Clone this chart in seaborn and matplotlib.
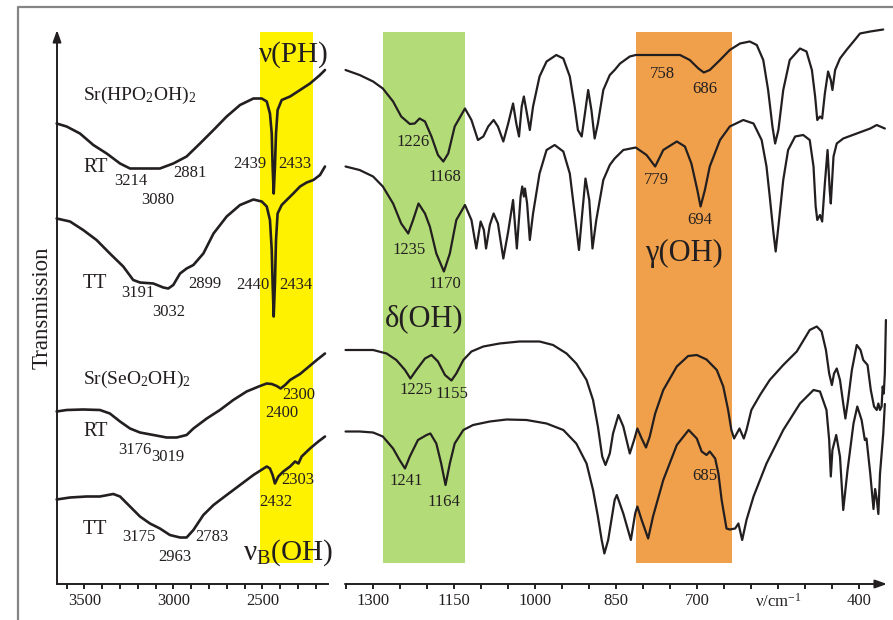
import numpy as np
import pandas as pd
import matplotlib
matplotlib.use("Agg")
import matplotlib.pyplot as plt
from matplotlib.lines import Line2D
import seaborn as sns

# IR spectra: wavenumber (cm-1) and transmission (arbitrary, offset per trace)
# --- high wavenumber part (3650-2150) ---
hp_rt_hi_nu = [3656, 3600, 3525, 3450, 3375, 3300, 3244, 3169, 3076, 3001, 2926, 2851, 2775, 2701, 2626,
               2551, 2504, 2476, 2458, 2448, 2443, 2437, 2430, 2424, 2415, 2392, 2345, 2289, 2233, 2177, 2149]
hp_rt_hi_t = [92.1, 91.5, 90.1, 87.8, 86.1, 84.1, 83.1, 83.1, 83.1, 84.1, 85.5, 88.1, 90.8, 93.5, 95.8,
              97.1, 97.1, 96.5, 94.1, 90.1, 83.5, 78.1, 83.5, 90.1, 94.8, 96.8, 97.5, 98.8, 100.1, 101.8, 102.8]

hp_tt_hi_nu = [3656, 3581, 3507, 3432, 3357, 3282, 3226, 3188, 3113, 3057, 3029, 3001, 2963, 2926, 2888,
               2832, 2775, 2701, 2626, 2551, 2504, 2476, 2458, 2448, 2443, 2437, 2430, 2424, 2415, 2392,
               2364, 2327, 2289, 2252, 2214, 2177, 2149]
hp_tt_hi_t = [73.1, 72.5, 70.8, 68.8, 66.1, 63.5, 60.8, 60.3, 60.1, 59.3, 59.1, 59.8, 62.1, 63.1, 63.8,
              66.1, 70.1, 73.5, 75.8, 76.9, 76.5, 75.5, 72.8, 66.8, 60.1, 53.5, 60.1, 68.8, 74.1, 75.8,
              76.8, 78.1, 79.5, 80.3, 80.8, 81.8, 83.5]

se_rt_hi_nu = [3656, 3600, 3507, 3413, 3357, 3300, 3244, 3188, 3113, 3038, 2982, 2926, 2888, 2813, 2739,
               2664, 2589, 2514, 2476, 2448, 2420, 2398, 2373, 2345, 2308, 2289, 2252, 2195, 2149]
se_rt_hi_t = [34.5, 34.8, 34.9, 34.8, 34.1, 32.5, 31.1, 30.3, 29.8, 29.3, 29.3, 29.8, 31.1, 33.1, 34.8,
              36.8, 38.5, 39.6, 40.1, 40.0, 39.6, 39.1, 39.8, 40.8, 41.6, 42.0, 43.1, 44.8, 46.1]

se_tt_hi_nu = [3656, 3581, 3488, 3413, 3338, 3300, 3244, 3188, 3132, 3076, 3020, 2963, 2926, 2888, 2832,
               2775, 2701, 2626, 2551, 2476, 2458, 2443, 2430, 2411, 2383, 2345, 2317, 2298, 2280, 2233,
               2186, 2149]
se_tt_hi_t = [16.9, 17.3, 17.5, 17.5, 18.0, 17.5, 15.5, 13.5, 12.1, 11.1, 9.8, 9.3, 9.3, 10.8, 13.8,
              15.8, 17.8, 19.8, 21.8, 23.5, 23.1, 21.8, 20.1, 21.5, 22.5, 23.5, 24.5, 24.1, 25.5, 27.1,
              28.5, 29.5]

# --- low wavenumber part (1350-350) ---
hp_rt_lo_nu = [1351, 1325, 1300, 1282, 1263, 1248, 1232, 1223, 1214, 1204, 1192, 1180, 1170, 1161, 1149,
               1130, 1118, 1106, 1096, 1087, 1077, 1069, 1059, 1050, 1041, 1035, 1030, 1025, 1021, 1016,
               1010, 1004, 992, 979, 961, 948, 936, 927, 921, 914, 908, 902, 896, 890, 884,
               874, 862, 853, 843, 825, 814, 769, 732, 714, 698, 688, 677, 658, 640, 621,
               603, 590, 578, 569, 561, 556, 550, 541, 529, 510, 498, 488, 482, 478, 473,
               469, 464, 458, 453, 450, 445, 436, 424, 411, 399, 380, 356]
hp_rt_lo_t = [102.8, 101.8, 100.5, 99.1, 96.5, 93.5, 92.0, 92.1, 93.1, 92.5, 89.5, 85.8, 84.5, 86.1, 91.5,
              95.1, 92.8, 88.8, 89.5, 91.5, 92.8, 91.5, 88.5, 92.1, 96.1, 92.1, 89.5, 95.5, 97.5, 94.5,
              90.8, 95.5, 101.5, 104.5, 105.8, 105.1, 101.5, 95.5, 90.8, 89.5, 94.1, 98.8, 94.8, 89.1, 92.1,
              98.8, 101.8, 102.8, 104.1, 105.5, 105.8, 105.8, 105.8, 104.8, 103.1, 102.3, 102.8, 104.8, 106.8, 108.1,
              108.5, 107.8, 104.8, 98.8, 91.5, 88.1, 90.8, 98.8, 104.8, 107.1, 106.5, 102.8, 97.5, 92.8, 93.5,
              93.1, 98.1, 102.5, 100.8, 98.8, 102.8, 105.1, 106.8, 108.5, 110.1, 110.5, 110.9]

hp_tt_lo_nu = [1351, 1325, 1300, 1282, 1263, 1248, 1235, 1226, 1216, 1204, 1195, 1183, 1169, 1158, 1146,
               1130, 1118, 1109, 1101, 1095, 1091, 1084, 1077, 1069, 1059, 1050, 1041, 1034, 1027, 1024,
               1021, 1019, 1015, 1010, 1004, 992, 979, 964, 948, 936, 927, 919, 913, 907, 900,
               894, 887, 874, 862, 853, 837, 814, 794, 778, 763, 738, 723, 711, 700, 694,
               686, 677, 658, 640, 615, 596, 581, 572, 566, 559, 555, 550, 541, 532, 519,
               504, 492, 485, 481, 478, 473, 469, 464, 459, 455, 453, 448, 442, 430, 405,
               380, 368, 353]
hp_tt_lo_t = [83.5, 82.8, 81.5, 79.5, 76.1, 72.1, 70.1, 72.8, 76.1, 74.1, 71.5, 66.1, 62.5, 66.1, 72.8,
              75.8, 72.8, 67.1, 72.5, 70.8, 67.1, 71.8, 74.1, 72.1, 65.1, 70.5, 76.8, 67.1, 77.5, 79.5,
              77.5, 79.1, 76.1, 68.8, 74.1, 82.1, 86.8, 87.8, 86.5, 82.1, 74.1, 66.8, 74.1, 81.1, 76.8,
              67.1, 72.8, 80.8, 83.8, 85.1, 86.8, 87.3, 85.8, 83.5, 86.8, 88.5, 87.5, 84.1, 78.8, 75.5,
              78.8, 83.5, 88.8, 91.5, 92.8, 92.1, 88.8, 83.5, 77.5, 70.1, 66.5, 71.5, 80.8, 86.8, 89.5,
              89.8, 88.8, 83.5, 75.5, 72.8, 73.8, 72.5, 80.1, 86.8, 78.8, 76.1, 85.5, 88.1, 89.1, 90.1,
              91.1, 91.8, 91.1]

se_rt_lo_nu = [1351, 1325, 1300, 1275, 1257, 1241, 1231, 1220, 1204, 1192, 1180, 1167, 1155, 1146, 1133,
               1118, 1096, 1066, 1029, 992, 967, 942, 924, 905, 893, 884, 876, 870, 862, 856,
               846, 837, 825, 817, 811, 803, 795, 788, 778, 763, 738, 717, 701, 683, 664,
               652, 643, 637, 632, 627, 622, 618, 614, 609, 600, 584, 566, 541, 516, 492,
               479, 470, 462, 456, 451, 447, 442, 436, 430, 426, 421, 414, 405, 398, 393,
               385, 379, 373, 368, 365, 362, 359, 357, 355, 353, 351]
se_rt_lo_t = [46.8, 46.8, 46.8, 46.1, 44.8, 42.8, 41.1, 42.8, 45.1, 45.8, 44.5, 41.8, 40.7, 42.1, 44.8,
              46.5, 47.5, 48.1, 48.5, 48.5, 47.8, 46.1, 44.1, 40.8, 36.8, 31.5, 25.5, 23.8, 26.1, 30.1,
              33.8, 31.5, 26.1, 28.8, 31.1, 29.1, 27.3, 29.5, 34.1, 38.8, 43.5, 45.6, 45.8, 44.9, 42.8,
              39.5, 34.8, 30.8, 29.1, 30.1, 31.1, 30.1, 29.1, 30.8, 34.8, 37.8, 40.8, 43.8, 46.5, 50.8,
              51.5, 50.5, 46.8, 42.1, 39.8, 42.1, 43.1, 40.8, 36.1, 33.1, 36.8, 42.8, 47.8, 46.8, 44.8,
              43.8, 38.8, 35.5, 34.8, 36.1, 34.8, 35.5, 39.5, 38.1, 42.1, 52.8]

se_tt_lo_nu = [1351, 1325, 1300, 1282, 1263, 1251, 1241, 1232, 1217, 1201, 1194, 1183, 1174, 1166, 1158,
               1149, 1133, 1115, 1084, 1053, 1016, 979, 948, 924, 905, 893, 884, 877, 872, 865,
               859, 853, 849, 837, 823, 815, 811, 803, 791, 782, 763, 738, 716, 701, 692,
               683, 677, 667, 661, 655, 646, 640, 630, 624, 617, 609, 596, 572, 541, 510,
               485, 473, 461, 456, 453, 450, 443, 436, 430, 422, 411, 404, 396, 390, 387,
               380, 374, 371, 368, 365, 362, 356, 353]
se_tt_lo_t = [30.5, 30.5, 30.3, 29.5, 27.1, 24.8, 23.1, 25.5, 28.8, 29.8, 30.1, 28.1, 24.1, 19.8, 24.1,
              28.1, 30.8, 31.8, 32.5, 32.9, 32.8, 32.1, 30.8, 28.1, 24.1, 18.8, 13.5, 8.8, 6.1, 8.8,
              12.8, 16.8, 17.8, 14.1, 8.8, 14.1, 15.5, 12.8, 9.1, 13.5, 20.8, 27.8, 30.8, 29.1, 26.5,
              25.8, 26.5, 25.1, 22.1, 16.8, 11.1, 10.9, 11.1, 12.1, 8.8, 12.8, 17.5, 24.1, 30.8, 36.1,
              38.8, 38.5, 34.8, 28.8, 21.5, 26.8, 29.8, 25.5, 14.8, 22.8, 32.1, 35.5, 32.8, 28.8, 29.1,
              22.1, 15.0, 19.0, 17.0, 14.0, 22.0, 30.0, 36.0]

# assignment bands (cm-1)
band_ph = (2514, 2218)
band_delta = (1282, 1130)
band_gamma = (814, 636)

hi_ticks = [3500, 3000, 2500]
lo_ticks = [1300, 1150, 1000, 850, 700, 550, 400]
lo_ticklabels = ['1300', '1150', '1000', '850', '700', r'ν/cm$^{\mathrm{-1}}$', '400']


def trace(nu, t, name):
    return pd.DataFrame({'nu': nu, 'T': t, 'sample': name})


hi = pd.concat([trace(hp_rt_hi_nu, hp_rt_hi_t, 'HP RT'), trace(hp_tt_hi_nu, hp_tt_hi_t, 'HP TT'),
                trace(se_rt_hi_nu, se_rt_hi_t, 'Se RT'), trace(se_tt_hi_nu, se_tt_hi_t, 'Se TT')])
lo = pd.concat([trace(hp_rt_lo_nu, hp_rt_lo_t, 'HP RT'), trace(hp_tt_lo_nu, hp_tt_lo_t, 'HP TT'),
                trace(se_rt_lo_nu, se_rt_lo_t, 'Se RT'), trace(se_tt_lo_nu, se_tt_lo_t, 'Se TT')])

sns.set_style("white")
plt.rcParams['font.family'] = ['Liberation Serif', 'DejaVu Serif']
plt.rcParams['mathtext.fontset'] = 'custom'
plt.rcParams['mathtext.rm'] = 'Liberation Serif'
plt.rcParams['mathtext.it'] = 'Liberation Serif:italic'
plt.rcParams['mathtext.bf'] = 'Liberation Serif:bold'

INK = '#231f20'
W, H = 893, 620
fig = plt.figure(figsize=(W / 100, H / 100), dpi=100)
ax_hi = fig.add_axes([57 / W, 36 / H, 271 / W, 554 / H])
ax_lo = fig.add_axes([345 / W, 36 / H, 542 / W, 554 / H])

sns.lineplot(data=hi, x='nu', y='T', units='sample', estimator=None, sort=False,
             color=INK, lw=1.9, ax=ax_hi, legend=False, zorder=3)
sns.lineplot(data=lo, x='nu', y='T', units='sample', estimator=None, sort=False,
             color=INK, lw=1.6, ax=ax_lo, legend=False, zorder=3)
for ln in ax_hi.lines + ax_lo.lines:
    ln.set_clip_on(False)
    ln.set_solid_joinstyle('round')
    ln.set_solid_capstyle('round')

ax_hi.set_xlim(3654, 2132)
ax_lo.set_xlim(1352, 349)

ax_hi.axvspan(*band_ph, ymin=0.038, ymax=0.997, color='#fff200', lw=0, zorder=0)
ax_lo.axvspan(*band_delta, ymin=0.038, ymax=0.997, color='#b3db77', lw=0, zorder=0)
ax_lo.axvspan(*band_gamma, ymin=0.038, ymax=0.997, color='#f0a04b', lw=0, zorder=0)

for ax in (ax_hi, ax_lo):
    ax.set_ylim(0, 110.8)
    ax.set_facecolor('none')
    ax.set_xlabel('')
    ax.set_ylabel('')
    ax.set_yticks([])
    for s in ('top', 'right', 'left'):
        ax.spines[s].set_visible(False)
    ax.spines['bottom'].set_color(INK)
    ax.spines['bottom'].set_linewidth(1.4)
    ax.tick_params(axis='x', which='both', bottom=True, direction='out', length=3.5, width=1.4,
                   color=INK, labelcolor=INK, labelsize=12, pad=3)

ax_hi.set_xticks(hi_ticks)
ax_hi.set_xticks(np.arange(3600, 2199, -100), minor=True)
ax_lo.set_xticks(lo_ticks)
ax_lo.set_xticklabels(lo_ticklabels)
ax_lo.set_xticks(np.arange(1350, 399, -50), minor=True)
ax_lo.spines['bottom'].set_visible(False)

arrow = dict(arrowstyle='-|>,head_length=0.7,head_width=0.25', color=INK, lw=1.4,
             shrinkA=0, shrinkB=0)
ax_hi.annotate('', xy=(0, 1), xytext=(0, 0), xycoords='axes fraction',
               arrowprops=arrow, annotation_clip=False)
ax_lo.annotate('', xy=(1, 0), xytext=(0, 0), xycoords='axes fraction',
               arrowprops=arrow, annotation_clip=False)

fig.add_artist(Line2D([18 / W, 18 / W, 1.0], [0, 1 - 7 / H, 1 - 7 / H],
                      transform=fig.transFigure, color='#858585', lw=1.6))

fig.text(42 / W, 1 - 308 / H, 'Transmission', rotation=90, fontsize=16.5,
         ha='center', va='center', color=INK)


def lab(ax, nu, t, s, size=12, ha='center'):
    ax.text(nu, t, s, fontsize=size, ha=ha, va='center', color=INK, zorder=5)


# left part labels
lab(ax_hi, 2323, 105.8, 'ν(PH)', 21)
lab(ax_hi, 3508, 97.8, r'Sr(HPO$_\mathrm{2}$OH)$_\mathrm{2}$', 14, 'left')
lab(ax_hi, 3508, 83.4, 'RT', 14.5, 'left')
lab(ax_hi, 3508, 60.0, 'TT', 14.5, 'left')
lab(ax_hi, 3508, 41.0, r'Sr(SeO$_\mathrm{2}$OH)$_\mathrm{2}$', 14, 'left')
lab(ax_hi, 3508, 30.4, 'RT', 14.5, 'left')
lab(ax_hi, 3508, 10.8, 'TT', 14.5, 'left')
lab(ax_hi, 2357, 6.2, r'ν$_\mathrm{B}$(OH)', 21)
for nu, t, s in [(3239, 80.6, '3214'), (3087, 76.8, '3080'), (2907, 82.2, '2881'),
                 (2570, 84.0, '2439'), (2317, 84.0, '2433'),
                 (3199, 58.2, '3191'), (3025, 54.4, '3032'), (2823, 60.0, '2899'),
                 (2553, 59.8, '2440'), (2312, 59.8, '2434'),
                 (3216, 26.8, '3176'), (3031, 25.4, '3019'), (2390, 34.2, '2400'), (2295, 37.8, '2300'),
                 (3194, 9.4, '3175'), (2992, 5.4, '2963'), (2784, 9.4, '2783'),
                 (2424, 16.4, '2432'), (2301, 20.8, '2303')]:
    lab(ax_hi, nu, t, s)

# right part labels
lab(ax_lo, 1206, 53.0, 'δ(OH)', 22)
lab(ax_lo, 724.6, 66.2, 'γ(OH)', 22)
for nu, t, s in [(1226, 88.4, '1226'), (1167, 81.4, '1168'), (1234, 66.8, '1235'), (1167, 60.0, '1170'),
                 (1221, 38.8, '1225'), (1154, 38.0, '1155'), (1238, 20.6, '1241'), (1169, 16.4, '1164'),
                 (765, 102.0, '758'), (687, 99.0, '686'), (776, 80.8, '779'), (695, 72.8, '694'),
                 (686, 21.6, '685')]:
    lab(ax_lo, nu, t, s)

fig.savefig('out.png', dpi=100)
